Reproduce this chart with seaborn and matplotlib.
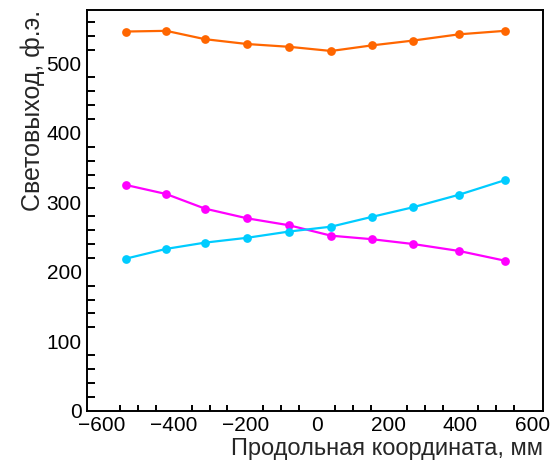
import numpy as np
import pandas as pd
import matplotlib
matplotlib.use("Agg")
import matplotlib.pyplot as plt
from matplotlib.ticker import MultipleLocator
import seaborn as sns

# Longitudinal coordinate of the measurement points, mm
coord = [-533, -421, -313, -195, -78, 39, 152, 268, 396, 524]

# Light yield, photoelectrons
sum_yield = [546, 547, 535, 528, 524, 518, 526, 533, 542, 547]
left_yield = [325, 312, 291, 277, 267, 252, 247, 240, 230, 216]
right_yield = [219, 233, 242, 249, 258, 265, 279, 293, 311, 332]

series_names = ["sum", "left", "right"]
series_colors = ["#ff6600", "#ff00ff", "#00ccff"]

df = pd.concat(
    [
        pd.DataFrame({"x": coord, "y": vals, "series": name})
        for name, vals in zip(series_names, [sum_yield, left_yield, right_yield])
    ],
    ignore_index=True,
)

sns.set_theme(style="white")
plt.rcParams["font.family"] = ["Liberation Sans", "DejaVu Sans"]

fig = plt.figure(figsize=(5.53, 4.72), dpi=100)
ax = fig.add_axes([0.1579, 0.1299, 0.9825 - 0.1579, 0.9788 - 0.1299])

sns.lineplot(
    data=df, x="x", y="y", hue="series",
    palette=dict(zip(series_names, series_colors)),
    marker="o", markersize=6.3, markeredgewidth=0, linewidth=1.6,
    legend=False, ax=ax,
)

ax.set_xlim(-641, 631)
ax.set_ylim(0, 577)

ax.xaxis.set_major_locator(MultipleLocator(200))
ax.xaxis.set_minor_locator(MultipleLocator(50))
ax.yaxis.set_major_locator(MultipleLocator(100))
ax.yaxis.set_minor_locator(MultipleLocator(20))

ax.tick_params(axis="both", which="both", direction="in", colors="black",
               labelsize=15, width=1.4, top=False, right=False)
ax.tick_params(axis="x", which="major", length=7.2, pad=4)
ax.tick_params(axis="x", which="minor", length=4.1, bottom=True)
ax.tick_params(axis="y", which="major", length=10, pad=4)
ax.tick_params(axis="y", which="minor", length=5.5, left=True)

for sp in ax.spines.values():
    sp.set_color("black")
    sp.set_linewidth(1.4)

ax.set_xlabel("Продольная координата, мм", fontsize=17, ha="right", x=1.0,
              labelpad=2)
ax.set_ylabel("Световыход, ф.э.", fontsize=18, ha="right", y=1.0, labelpad=1)

fig.savefig("out.png", dpi=100)
